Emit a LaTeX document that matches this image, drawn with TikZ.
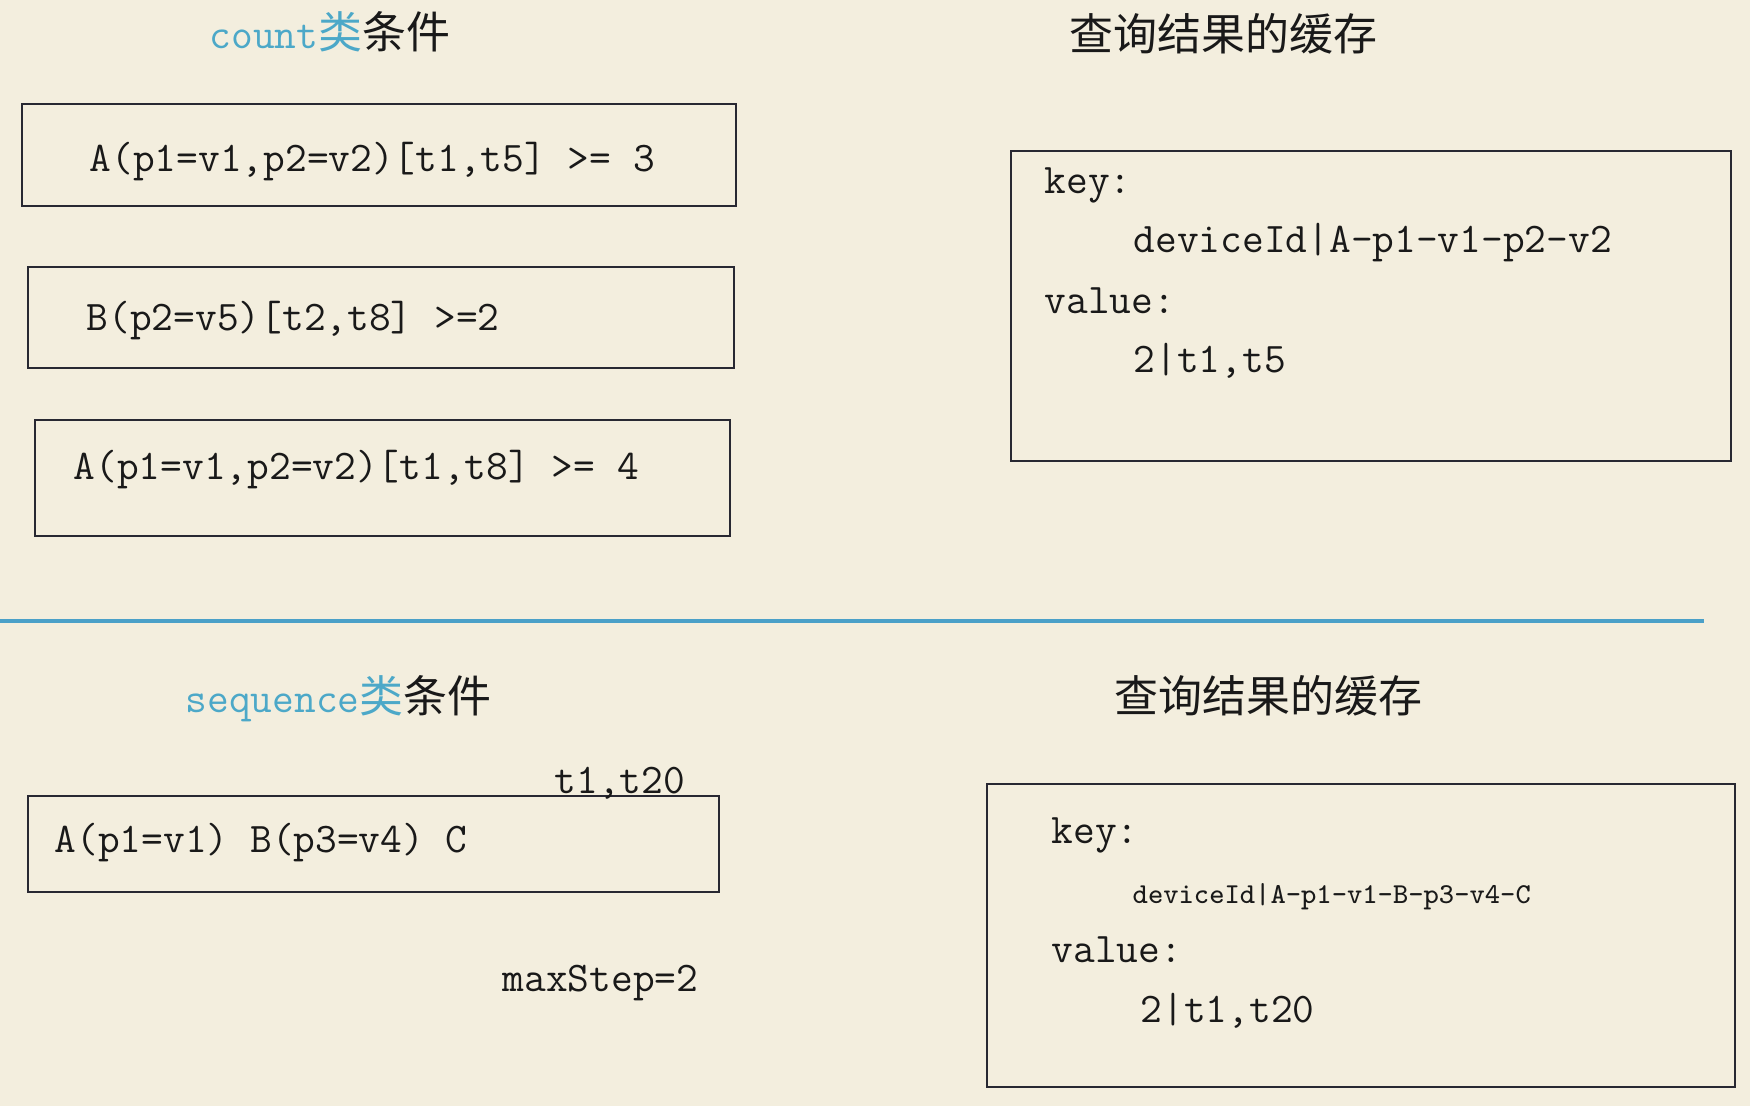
\documentclass[tikz,border=0pt]{standalone}
\usepackage{fontspec}
\newfontfamily\cjk{Noto Sans CJK SC}
\definecolor{bg}{RGB}{243,238,222}
\definecolor{titleblue}{RGB}{76,168,200}
\definecolor{lineblue}{RGB}{74,160,200}
\definecolor{boxline}{RGB}{40,40,50}
\tikzset{
  mono/.style={inner sep=0pt, anchor=base west, font=\fontsize{12pt}{14pt}\selectfont\ttfamily, text=black!90},
  smallmono/.style={mono, font=\fontsize{8.2pt}{10pt}\selectfont\ttfamily},
  titletext/.style={inner sep=0pt, anchor=base west, font=\fontsize{12.5pt}{15pt}\selectfont, text=black!90},
  frame/.style={draw=boxline, line width=0.7pt, inner sep=0pt, outer sep=0pt},
}
\newcommand{\mytt}[1]{{\fontsize{12pt}{14pt}\selectfont\ttfamily #1}}
\begin{document}
\begin{tikzpicture}[x=0.01cm,y=-0.01cm]
  \fill[bg] (0,0) rectangle (1750,1106);
  \useasboundingbox (0,0) rectangle (1750,1106);

  % titles
  \node[titletext] (t1) at (209,48) {\textcolor{titleblue}{\mytt{count}{\cjk 类}}{\cjk 条件}};
  \node[titletext] (t2) at (1069,51) {\cjk 查询结果的缓存};

  % count boxes
  \node[frame, minimum width=7.14cm, minimum height=1.02cm] (b1) at (379,155) {};
  \node[mono] (b1t) at (89,171) {A(p1=v1,p2=v2)[t1,t5] >= 3};
  \node[frame, minimum width=7.06cm, minimum height=1.01cm] (b2) at (381,317.5) {};
  \node[mono] (b2t) at (86,330) {B(p2=v5)[t2,t8] >=2};
  \node[frame, minimum width=6.95cm, minimum height=1.16cm] (b3) at (382.5,478) {};
  \node[mono] (b3t) at (73,479) {A(p1=v1,p2=v2)[t1,t8] >= 4};

  % cache box top
  \node[frame, minimum width=7.20cm, minimum height=3.10cm] (c1) at (1371,306) {};
  \node[mono] (k1) at (1044,193) {key:};
  \node[mono] (d1) at (1133,252) {deviceId|A-p1-v1-p2-v2};
  \node[mono] (v1) at (1044,313) {value:};
  \node[mono] (w1) at (1133,372) {2|t1,t5};

  % separator
  \coordinate (sepL) at (0,621);
  \coordinate (sepR) at (1704,621);
  \draw[lineblue, line width=1.2pt] (sepL) -- (sepR);

  % sequence part
  \node[titletext] (t3) at (185,712) {\textcolor{titleblue}{\mytt{sequence}{\cjk 类}}{\cjk 条件}};
  \node[titletext] (t4) at (1114,712) {\cjk 查询结果的缓存};

  \node[frame, minimum width=6.91cm, minimum height=0.96cm] (s1) at (373.5,844) {};
  \node[mono] (s1t) at (54,852) {A(p1=v1) B(p3=v4) C};
  \node[mono] (tt) at (554,793) {t1,t20};
  \node[mono] (ms) at (502,991) {maxStep=2};

  % cache box bottom
  \node[frame, minimum width=7.48cm, minimum height=3.03cm] (c2) at (1361,935.5) {};
  \node[mono] (k2) at (1051,843) {key:};
  \node[smallmono] (d2) at (1132,903) {deviceId|A-p1-v1-B-p3-v4-C};
  \node[mono] (v2) at (1051,962) {value:};
  \node[mono] (w2) at (1140,1022) {2|t1,t20};
\end{tikzpicture}
\end{document}
